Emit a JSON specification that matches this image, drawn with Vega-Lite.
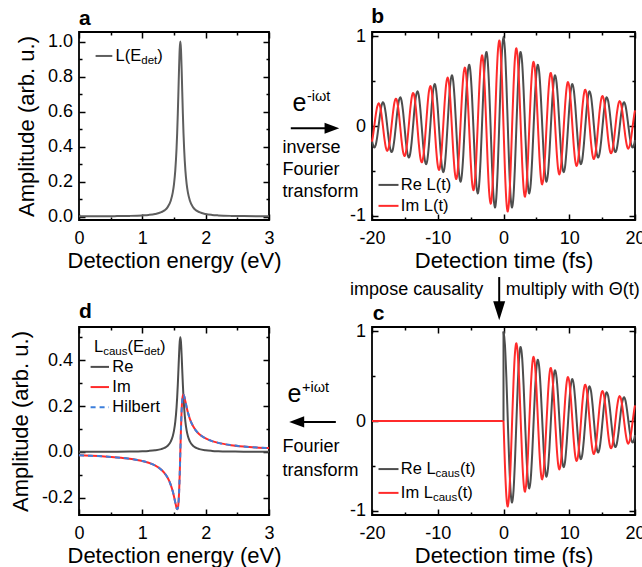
{
"$schema": "https://vega.github.io/schema/vega-lite/v6.json",
"padding": {"left": 8, "top": 5, "right": 0, "bottom": 0},
"bounds": "flush",
"columns": 2,
"spacing": {"row": 107, "column": 103},
"config": {
 "font": "Liberation Sans",
 "view": {"stroke": "#000000", "strokeWidth": 1.8},
 "axis": {"grid": false, "domain": false, "labelFont": "Liberation Sans", "labelFontSize": 18, "labelColor": "#000000", "titleFont": "Liberation Sans", "titleFontSize": 22, "titleFontWeight": "normal", "titleColor": "#000000", "tickColor": "#000000", "tickWidth": 1.5, "labelFlush": false, "labelOverlap": false, "zindex": 1},
 "axisX": {"labelPadding": 15.7},
 "axisY": {"labelPadding": 12.5},
 "text": {"font": "Liberation Sans", "color": "#000000"}
},
"datasets": {
 "time": [
{"t":-20,"re":-0.157,"im":-0.175},{"t":-19.868,"re":-0.205,"im":-0.119},{"t":-19.65,"re":-0.241,"im":0},{"t":-19.432,"re":-0.212,"im":0.122},{"t":-19.213,"re":-0.124,"im":0.215},{"t":-18.995,"re":0,"im":0.253},{"t":-18.777,"re":0.128,"im":0.222},{"t":-18.558,"re":0.226,"im":0.130},{"t":-18.34,"re":0.265,"im":0},{"t":-18.122,"re":0.233,"im":-0.135},{"t":-17.903,"re":0.137,"im":-0.237},{"t":-17.685,"re":0,"im":-0.278},{"t":-17.467,"re":-0.141,"im":-0.244},{"t":-17.248,"re":-0.248,"im":-0.143},{"t":-17.03,"re":-0.291,"im":0},{"t":-16.812,"re":-0.256,"im":0.148},{"t":-16.593,"re":-0.150,"im":0.260},{"t":-16.375,"re":0,"im":0.305},{"t":-16.157,"re":0.155,"im":0.269},{"t":-15.938,"re":0.273,"im":0.158},{"t":-15.72,"re":0.320,"im":0},{"t":-15.502,"re":0.282,"im":-0.163},{"t":-15.283,"re":0.165,"im":-0.286},{"t":-15.065,"re":0,"im":-0.336},{"t":-14.847,"re":-0.171,"im":-0.295},{"t":-14.628,"re":-0.300,"im":-0.173},{"t":-14.41,"re":-0.352,"im":0},{"t":-14.192,"re":-0.310,"im":0.179},{"t":-13.973,"re":-0.182,"im":0.315},{"t":-13.755,"re":0,"im":0.369},{"t":-13.537,"re":0.188,"im":0.325},{"t":-13.318,"re":0.330,"im":0.191},{"t":-13.1,"re":0.387,"im":0},{"t":-12.882,"re":0.341,"im":-0.197},{"t":-12.663,"re":0.200,"im":-0.346},{"t":-12.445,"re":0,"im":-0.406},{"t":-12.227,"re":-0.206,"im":-0.357},{"t":-12.008,"re":-0.363,"im":-0.210},{"t":-11.79,"re":-0.426,"im":0},{"t":-11.572,"re":-0.375,"im":0.216},{"t":-11.353,"re":-0.220,"im":0.381},{"t":-11.135,"re":0,"im":0.446},{"t":-10.917,"re":0.227,"im":0.393},{"t":-10.698,"re":0.399,"im":0.230},{"t":-10.48,"re":0.468,"im":0},{"t":-10.262,"re":0.412,"im":-0.238},{"t":-10.043,"re":0.242,"im":-0.418},{"t":-9.825,"re":0,"im":-0.491},{"t":-9.607,"re":-0.249,"im":-0.432},{"t":-9.388,"re":-0.439,"im":-0.253},{"t":-9.17,"re":-0.515,"im":0},{"t":-8.952,"re":-0.453,"im":0.261},{"t":-8.733,"re":-0.266,"im":0.460},{"t":-8.515,"re":0,"im":0.540},{"t":-8.297,"re":0.274,"im":0.475},{"t":-8.078,"re":0.482,"im":0.279},{"t":-7.86,"re":0.566,"im":0},{"t":-7.642,"re":0.498,"im":-0.288},{"t":-7.423,"re":0.292,"im":-0.506},{"t":-7.205,"re":0,"im":-0.593},{"t":-6.987,"re":-0.301,"im":-0.522},{"t":-6.768,"re":-0.530,"im":-0.306},{"t":-6.55,"re":-0.622,"im":0},{"t":-6.332,"re":-0.547,"im":0.316},{"t":-6.113,"re":-0.321,"im":0.556},{"t":-5.895,"re":0,"im":0.652},{"t":-5.677,"re":0.331,"im":0.574},{"t":-5.458,"re":0.583,"im":0.337},{"t":-5.24,"re":0.684,"im":0},{"t":-5.022,"re":0.602,"im":-0.348},{"t":-4.803,"re":0.353,"im":-0.612},{"t":-4.585,"re":0,"im":-0.717},{"t":-4.367,"re":-0.364,"im":-0.631},{"t":-4.148,"re":-0.641,"im":-0.370},{"t":-3.93,"re":-0.752,"im":0},{"t":-3.712,"re":-0.662,"im":0.382},{"t":-3.493,"re":-0.388,"im":0.672},{"t":-3.275,"re":0,"im":0.789},{"t":-3.057,"re":0.401,"im":0.694},{"t":-2.838,"re":0.705,"im":0.407},{"t":-2.62,"re":0.827,"im":0},{"t":-2.402,"re":0.728,"im":-0.420},{"t":-2.183,"re":0.427,"im":-0.739},{"t":-1.965,"re":0,"im":-0.867},{"t":-1.747,"re":-0.441,"im":-0.763},{"t":-1.528,"re":-0.775,"im":-0.448},{"t":-1.31,"re":-0.909,"im":0},{"t":-1.092,"re":-0.800,"im":0.462},{"t":-0.873,"re":-0.469,"im":0.813},{"t":-0.655,"re":0,"im":0.954},{"t":-0.437,"re":0.484,"im":0.839},{"t":-0.218,"re":0.852,"im":0.492},
{"t":0,"re":1,"im":0},
{"t":0.218,"re":0.852,"im":-0.492},{"t":0.437,"re":0.484,"im":-0.839},{"t":0.655,"re":0,"im":-0.954},{"t":0.873,"re":-0.469,"im":-0.813},{"t":1.092,"re":-0.800,"im":-0.462},{"t":1.31,"re":-0.909,"im":0},{"t":1.528,"re":-0.775,"im":0.448},{"t":1.747,"re":-0.441,"im":0.763},{"t":1.965,"re":0,"im":0.867},{"t":2.183,"re":0.427,"im":0.739},{"t":2.402,"re":0.728,"im":0.420},{"t":2.62,"re":0.827,"im":0},{"t":2.838,"re":0.705,"im":-0.407},{"t":3.057,"re":0.401,"im":-0.694},{"t":3.275,"re":0,"im":-0.789},{"t":3.493,"re":-0.388,"im":-0.672},{"t":3.712,"re":-0.662,"im":-0.382},{"t":3.93,"re":-0.752,"im":0},{"t":4.148,"re":-0.641,"im":0.370},{"t":4.367,"re":-0.364,"im":0.631},{"t":4.585,"re":0,"im":0.717},{"t":4.803,"re":0.353,"im":0.612},{"t":5.022,"re":0.602,"im":0.348},{"t":5.24,"re":0.684,"im":0},{"t":5.458,"re":0.583,"im":-0.337},{"t":5.677,"re":0.331,"im":-0.574},{"t":5.895,"re":0,"im":-0.652},{"t":6.113,"re":-0.321,"im":-0.556},{"t":6.332,"re":-0.547,"im":-0.316},{"t":6.55,"re":-0.622,"im":0},{"t":6.768,"re":-0.530,"im":0.306},{"t":6.987,"re":-0.301,"im":0.522},{"t":7.205,"re":0,"im":0.593},{"t":7.423,"re":0.292,"im":0.506},{"t":7.642,"re":0.498,"im":0.288},{"t":7.86,"re":0.566,"im":0},{"t":8.078,"re":0.482,"im":-0.279},{"t":8.297,"re":0.274,"im":-0.475},{"t":8.515,"re":0,"im":-0.540},{"t":8.733,"re":-0.266,"im":-0.460},{"t":8.952,"re":-0.453,"im":-0.261},{"t":9.17,"re":-0.515,"im":0},{"t":9.388,"re":-0.439,"im":0.253},{"t":9.607,"re":-0.249,"im":0.432},{"t":9.825,"re":0,"im":0.491},{"t":10.043,"re":0.242,"im":0.418},{"t":10.262,"re":0.412,"im":0.238},{"t":10.48,"re":0.468,"im":0},{"t":10.698,"re":0.399,"im":-0.230},{"t":10.917,"re":0.227,"im":-0.393},{"t":11.135,"re":0,"im":-0.446},{"t":11.353,"re":-0.220,"im":-0.381},{"t":11.572,"re":-0.375,"im":-0.216},{"t":11.79,"re":-0.426,"im":0},{"t":12.008,"re":-0.363,"im":0.210},{"t":12.227,"re":-0.206,"im":0.357},{"t":12.445,"re":0,"im":0.406},{"t":12.663,"re":0.200,"im":0.346},{"t":12.882,"re":0.341,"im":0.197},{"t":13.1,"re":0.387,"im":0},{"t":13.318,"re":0.330,"im":-0.191},{"t":13.537,"re":0.188,"im":-0.325},{"t":13.755,"re":0,"im":-0.369},{"t":13.973,"re":-0.182,"im":-0.315},{"t":14.192,"re":-0.310,"im":-0.179},{"t":14.41,"re":-0.352,"im":0},{"t":14.628,"re":-0.300,"im":0.173},{"t":14.847,"re":-0.171,"im":0.295},{"t":15.065,"re":0,"im":0.336},{"t":15.283,"re":0.165,"im":0.286},{"t":15.502,"re":0.282,"im":0.163},{"t":15.72,"re":0.320,"im":0},{"t":15.938,"re":0.273,"im":-0.158},{"t":16.157,"re":0.155,"im":-0.269},{"t":16.375,"re":0,"im":-0.305},{"t":16.593,"re":-0.150,"im":-0.260},{"t":16.812,"re":-0.256,"im":-0.148},{"t":17.03,"re":-0.291,"im":0},{"t":17.248,"re":-0.248,"im":0.143},{"t":17.467,"re":-0.141,"im":0.244},{"t":17.685,"re":0,"im":0.278},{"t":17.903,"re":0.137,"im":0.237},{"t":18.122,"re":0.233,"im":0.135},{"t":18.34,"re":0.265,"im":0},{"t":18.558,"re":0.226,"im":-0.130},{"t":18.777,"re":0.128,"im":-0.222},{"t":18.995,"re":0,"im":-0.253},{"t":19.213,"re":-0.124,"im":-0.215},{"t":19.432,"re":-0.212,"im":-0.122},{"t":19.65,"re":-0.241,"im":0},{"t":19.868,"re":-0.205,"im":0.119},{"t":20,"re":-0.157,"im":0.175}
 ],
 "spec": [
{"E":0,"L":0.0009,"re":0.0004,"im":-0.0149},{"E":0.2,"L":0.0012,"re":0.0006,"im":-0.0170},{"E":0.4,"L":0.0016,"re":0.0008,"im":-0.0198},{"E":0.6,"L":0.0023,"re":0.0011,"im":-0.0238},{"E":0.8,"L":0.0035,"re":0.0018,"im":-0.0297},{"E":1.0,"L":0.0063,"re":0.0031,"im":-0.0395},{"E":1.1,"L":0.0090,"re":0.0045,"im":-0.0473},{"E":1.2,"L":0.0140,"re":0.0070,"im":-0.0588},{"E":1.3,"L":0.0247,"re":0.0123,"im":-0.0775},{"E":1.35,"L":0.0351,"re":0.0176,"im":-0.0921},{"E":1.4,"L":0.0538,"re":0.0269,"im":-0.1128},{"E":1.45,"L":0.0918,"re":0.0459,"im":-0.1444},{"E":1.48,"L":0.1364,"re":0.0682,"im":-0.1716},{"E":1.5,"L":0.1853,"re":0.0927,"im":-0.1943},{"E":1.52,"L":0.2623,"re":0.1311,"im":-0.2199},{"E":1.54,"L":0.3872,"re":0.1936,"im":-0.2436},{"E":1.55,"L":0.4764,"re":0.2382,"im":-0.2497},{"E":1.56,"L":0.5871,"re":0.2936,"im":-0.2462},{"E":1.57,"L":0.7165,"re":0.3583,"im":-0.2254},{"E":1.58,"L":0.8505,"re":0.4252,"im":-0.1783},{"E":1.59,"L":0.9579,"re":0.4789,"im":-0.1004},{"E":1.6,"L":1,"re":0.5,"im":0},{"E":1.61,"L":0.9579,"re":0.4789,"im":0.1004},{"E":1.62,"L":0.8505,"re":0.4252,"im":0.1783},{"E":1.63,"L":0.7165,"re":0.3583,"im":0.2254},{"E":1.64,"L":0.5871,"re":0.2936,"im":0.2462},{"E":1.65,"L":0.4764,"re":0.2382,"im":0.2497},{"E":1.66,"L":0.3872,"re":0.1936,"im":0.2436},{"E":1.68,"L":0.2623,"re":0.1311,"im":0.2199},{"E":1.7,"L":0.1853,"re":0.0927,"im":0.1943},{"E":1.72,"L":0.1364,"re":0.0682,"im":0.1716},{"E":1.75,"L":0.0918,"re":0.0459,"im":0.1444},{"E":1.8,"L":0.0538,"re":0.0269,"im":0.1128},{"E":1.85,"L":0.0351,"re":0.0176,"im":0.0921},{"E":1.9,"L":0.0247,"re":0.0123,"im":0.0775},{"E":2.0,"L":0.0140,"re":0.0070,"im":0.0588},{"E":2.1,"L":0.0090,"re":0.0045,"im":0.0473},{"E":2.2,"L":0.0063,"re":0.0031,"im":0.0395},{"E":2.4,"L":0.0035,"re":0.0018,"im":0.0297},{"E":2.6,"L":0.0023,"re":0.0011,"im":0.0238},{"E":2.8,"L":0.0016,"re":0.0008,"im":0.0198},{"E":3.0,"L":0.0012,"re":0.0006,"im":0.0170}
 ]
},
"concat": [
 {
  "width": 190, "height": 188,
  "resolve": {"axis": {"x": "independent", "y": "independent"}},
  "data": {"values": [
   {"k":"lr","x":0.262,"x2":0.526,"y":0.918},
   {"k":"leg","x":0.578,"y":0.918,"txt":"L(E"},
   {"k":"sub","x":0.984,"y":0.918,"txt":"det"},
   {"k":"leg","x":1.237,"y":0.918,"txt":")"},
   {"k":"let","x":0,"y":1.095,"txt":"a"}
  ]},
  "layer": [
   {"data": {"name": "spec"}, "mark": {"type": "line", "color": "#5e5e5e", "strokeWidth": 2, "interpolate": "monotone"},
    "encoding": {
     "x": {"field": "E", "type": "quantitative", "scale": {"domain": [0, 3], "nice": false, "zero": false},
       "axis": {"orient": "bottom", "values": [0, 0.5, 1, 1.5, 2, 2.5, 3], "labelExpr": "datum.value % 1 === 0 ? format(datum.value, 'd') : ''", "tickSize": {"condition": {"test": "datum.value % 1 === 0", "value": -6}, "value": -3}, "title": "Detection energy (eV)", "titlePadding": 0}},
     "y": {"field": "L", "type": "quantitative", "scale": {"domain": [-0.02, 1.055], "nice": false, "zero": false},
       "axis": {"orient": "left", "values": [0, 0.1, 0.2, 0.3, 0.4, 0.5, 0.6, 0.7, 0.8, 0.9, 1.0], "labelExpr": "abs(datum.value*5 - round(datum.value*5)) < 0.000001 ? format(datum.value, '.1f') : ''", "tickSize": {"condition": {"test": "abs(datum.value*5 - round(datum.value*5)) < 0.000001", "value": -6}, "value": -3}, "title": "Amplitude (arb. u.)", "titlePadding": 9}}
    }},
   {"data": {"name": "spec"}, "mark": {"type": "line", "strokeOpacity": 0},
    "encoding": {
     "x": {"field": "E", "type": "quantitative", "axis": {"orient": "top", "values": [0, 0.5, 1, 1.5, 2, 2.5, 3], "labels": false, "tickSize": {"condition": {"test": "datum.value % 1 === 0", "value": -6}, "value": -3}, "title": null}},
     "y": {"field": "L", "type": "quantitative", "axis": {"orient": "right", "values": [0, 0.1, 0.2, 0.3, 0.4, 0.5, 0.6, 0.7, 0.8, 0.9, 1.0], "labels": false, "tickSize": {"condition": {"test": "abs(datum.value*5 - round(datum.value*5)) < 0.000001", "value": -6}, "value": -3}, "title": null}}
    }},
   {"transform": [{"filter": "datum.k == 'lr'"}], "mark": {"type": "rule", "color": "#5e5e5e", "strokeWidth": 2},
    "encoding": {"x": {"field": "x", "type": "quantitative", "axis": null}, "x2": {"field": "x2"}, "y": {"field": "y", "type": "quantitative", "axis": null}}},
   {"transform": [{"filter": "datum.k == 'leg'"}], "mark": {"type": "text", "align": "left", "baseline": "middle", "fontSize": 16.5},
    "encoding": {"x": {"field": "x", "type": "quantitative", "axis": null}, "y": {"field": "y", "type": "quantitative", "axis": null}, "text": {"field": "txt"}}},
   {"transform": [{"filter": "datum.k == 'sub'"}], "mark": {"type": "text", "align": "left", "baseline": "middle", "fontSize": 11.5, "dy": 5},
    "encoding": {"x": {"field": "x", "type": "quantitative", "axis": null}, "y": {"field": "y", "type": "quantitative", "axis": null}, "text": {"field": "txt"}}},
   {"transform": [{"filter": "datum.k == 'let'"}], "mark": {"type": "text", "align": "left", "baseline": "alphabetic", "fontSize": 21, "fontWeight": "bold"},
    "encoding": {"x": {"field": "x", "type": "quantitative", "axis": null}, "y": {"field": "y", "type": "quantitative", "axis": null}, "text": {"field": "txt"}}}
  ]
 },
 {
  "width": 263, "height": 188,
  "resolve": {"axis": {"x": "independent", "y": "independent"}},
  "data": {"values": [
   {"k":"leg","x":-15.62,"y":-0.658,"txt":"Re L(t)"},
   {"k":"leg","x":-15.62,"y":-0.892,"txt":"Im L(t)"},
   {"k":"lr","x":-19.01,"x2":-15.97,"y":-0.658,"s":"re"},
   {"k":"lr","x":-19.01,"x2":-15.97,"y":-0.892,"s":"im"},
   {"k":"let","x":-20.1,"y":1.145,"txt":"b"},
   {"k":"txt","x":-33.61,"y":-0.249,"txt":"inverse"},
   {"k":"txt","x":-33.61,"y":-0.491,"txt":"Fourier"},
   {"k":"txt","x":-33.61,"y":-0.732,"txt":"transform"},
   {"k":"e","x":-32.09,"y":0.162,"txt":"e"},
   {"k":"sup","x":-29.89,"y":0.162,"txt":"-iωt"},
   {"k":"shaft","x":-32.35,"x2":-26.8,"y":-0.026},
   {"k":"headR","x":-26.1,"y":-0.026}
  ]},
  "layer": [
   {"data": {"name": "time"}, "mark": {"type": "line", "color": "#4d4d4d", "strokeWidth": 2, "interpolate": "cardinal"},
    "encoding": {
     "x": {"field": "t", "type": "quantitative", "scale": {"domain": [-20, 20], "nice": false, "zero": false},
       "axis": {"orient": "bottom", "values": [-20, -15, -10, -5, 0, 5, 10, 15, 20], "labelExpr": "datum.value % 10 === 0 ? replace(format(datum.value, 'd'), '−', '-') : ''", "tickSize": {"condition": {"test": "datum.value % 10 === 0", "value": -6}, "value": -3}, "title": "Detection time (fs)", "titlePadding": 0}},
     "y": {"field": "re", "type": "quantitative", "scale": {"domain": [-1.05, 1.05], "nice": false, "zero": false},
       "axis": {"orient": "left", "values": [-1, -0.5, 0, 0.5, 1], "labelExpr": "datum.value % 1 === 0 ? replace(format(datum.value, 'd'), '−', '-') : ''", "tickSize": {"condition": {"test": "datum.value % 1 === 0", "value": -6}, "value": -3}, "title": null}}
    }},
   {"data": {"name": "time"}, "mark": {"type": "line", "color": "#ff2b2b", "strokeWidth": 2, "interpolate": "cardinal"},
    "encoding": {"x": {"field": "t", "type": "quantitative", "axis": null}, "y": {"field": "im", "type": "quantitative", "axis": null}}},
   {"data": {"name": "time"}, "mark": {"type": "line", "strokeOpacity": 0},
    "encoding": {
     "x": {"field": "t", "type": "quantitative", "axis": {"orient": "top", "values": [-20, -15, -10, -5, 0, 5, 10, 15, 20], "labels": false, "tickSize": {"condition": {"test": "datum.value % 10 === 0", "value": -6}, "value": -3}, "title": null}},
     "y": {"field": "re", "type": "quantitative", "axis": {"orient": "right", "values": [-1, -0.5, 0, 0.5, 1], "labels": false, "tickSize": {"condition": {"test": "datum.value % 1 === 0", "value": -6}, "value": -3}, "title": null}}
    }},
   {"transform": [{"filter": "datum.k == 'lr'"}], "mark": {"type": "rule", "strokeWidth": 2},
    "encoding": {"x": {"field": "x", "type": "quantitative", "axis": null}, "x2": {"field": "x2"}, "y": {"field": "y", "type": "quantitative", "axis": null},
     "color": {"field": "s", "type": "nominal", "scale": {"domain": ["re", "im"], "range": ["#4d4d4d", "#ff2b2b"]}, "legend": null}}},
   {"transform": [{"filter": "datum.k == 'leg'"}], "mark": {"type": "text", "align": "left", "baseline": "middle", "fontSize": 16.5},
    "encoding": {"x": {"field": "x", "type": "quantitative", "axis": null}, "y": {"field": "y", "type": "quantitative", "axis": null}, "text": {"field": "txt"}}},
   {"transform": [{"filter": "datum.k == 'let'"}], "mark": {"type": "text", "align": "left", "baseline": "alphabetic", "fontSize": 21, "fontWeight": "bold"},
    "encoding": {"x": {"field": "x", "type": "quantitative", "axis": null}, "y": {"field": "y", "type": "quantitative", "axis": null}, "text": {"field": "txt"}}},
   {"transform": [{"filter": "datum.k == 'txt'"}], "mark": {"type": "text", "align": "left", "baseline": "middle", "fontSize": 18},
    "encoding": {"x": {"field": "x", "type": "quantitative", "axis": null}, "y": {"field": "y", "type": "quantitative", "axis": null}, "text": {"field": "txt"}}},
   {"transform": [{"filter": "datum.k == 'e'"}], "mark": {"type": "text", "align": "left", "baseline": "alphabetic", "fontSize": 25},
    "encoding": {"x": {"field": "x", "type": "quantitative", "axis": null}, "y": {"field": "y", "type": "quantitative", "axis": null}, "text": {"field": "txt"}}},
   {"transform": [{"filter": "datum.k == 'sup'"}], "mark": {"type": "text", "align": "left", "baseline": "alphabetic", "fontSize": 14.5, "dy": -10},
    "encoding": {"x": {"field": "x", "type": "quantitative", "axis": null}, "y": {"field": "y", "type": "quantitative", "axis": null}, "text": {"field": "txt"}}},
   {"transform": [{"filter": "datum.k == 'shaft'"}], "mark": {"type": "rule", "color": "#000000", "strokeWidth": 2},
    "encoding": {"x": {"field": "x", "type": "quantitative", "axis": null}, "x2": {"field": "x2"}, "y": {"field": "y", "type": "quantitative", "axis": null}}},
   {"transform": [{"filter": "datum.k == 'headR'"}], "mark": {"type": "point", "shape": "M-1,-0.75L1,0L-1,0.75Z", "filled": true, "color": "#000000", "opacity": 1, "size": 216},
    "encoding": {"x": {"field": "x", "type": "quantitative", "axis": null}, "y": {"field": "y", "type": "quantitative", "axis": null}}}
  ]
 },
 {
  "width": 190, "height": 188,
  "resolve": {"axis": {"x": "independent", "y": "independent"}},
  "data": {"values": [
   {"k":"leg","x":0.237,"y":0.459,"txt":"L"},
   {"k":"sub","x":0.382,"y":0.459,"txt":"caus"},
   {"k":"leg","x":0.766,"y":0.459,"txt":"(E"},
   {"k":"sub","x":1.027,"y":0.459,"txt":"det"},
   {"k":"leg","x":1.28,"y":0.459,"txt":")"},
   {"k":"leg","x":0.526,"y":0.371,"txt":"Re"},
   {"k":"leg","x":0.526,"y":0.283,"txt":"Im"},
   {"k":"leg","x":0.526,"y":0.195,"txt":"Hilbert"},
   {"k":"lr","x":0.183,"x2":0.474,"y":0.371,"s":"re"},
   {"k":"lr","x":0.183,"x2":0.474,"y":0.283,"s":"im"},
   {"k":"lrd","x":0.183,"x2":0.474,"y":0.195},
   {"k":"let","x":0,"y":0.583,"txt":"d"}
  ]},
  "layer": [
   {"data": {"name": "spec"}, "mark": {"type": "line", "color": "#4d4d4d", "strokeWidth": 2, "interpolate": "monotone"},
    "encoding": {
     "x": {"field": "E", "type": "quantitative", "scale": {"domain": [0, 3], "nice": false, "zero": false},
       "axis": {"orient": "bottom", "values": [0, 0.5, 1, 1.5, 2, 2.5, 3], "labelExpr": "datum.value % 1 === 0 ? format(datum.value, 'd') : ''", "tickSize": {"condition": {"test": "datum.value % 1 === 0", "value": -6}, "value": -3}, "title": "Detection energy (eV)", "titlePadding": 0}},
     "y": {"field": "re", "type": "quantitative", "scale": {"domain": [-0.275, 0.545], "nice": false, "zero": false},
       "axis": {"orient": "left", "values": [-0.2, -0.1, 0, 0.1, 0.2, 0.3, 0.4, 0.5], "labelExpr": "abs(datum.value*5 - round(datum.value*5)) < 0.000001 ? replace(format(datum.value, '.1f'), '−', '-') : ''", "tickSize": {"condition": {"test": "abs(datum.value*5 - round(datum.value*5)) < 0.000001", "value": -6}, "value": -3}, "title": "Amplitude (arb. u.)", "titlePadding": 9}}
    }},
   {"data": {"name": "spec"}, "mark": {"type": "line", "color": "#ff2b2b", "strokeWidth": 2, "interpolate": "monotone"},
    "encoding": {"x": {"field": "E", "type": "quantitative", "axis": null}, "y": {"field": "im", "type": "quantitative", "axis": null}}},
   {"data": {"name": "spec"}, "mark": {"type": "line", "color": "#3c7fdc", "strokeWidth": 2, "strokeDash": [5, 4], "interpolate": "monotone"},
    "encoding": {"x": {"field": "E", "type": "quantitative", "axis": null}, "y": {"field": "im", "type": "quantitative", "axis": null}}},
   {"data": {"name": "spec"}, "mark": {"type": "line", "strokeOpacity": 0},
    "encoding": {
     "x": {"field": "E", "type": "quantitative", "axis": {"orient": "top", "values": [0, 0.5, 1, 1.5, 2, 2.5, 3], "labels": false, "tickSize": {"condition": {"test": "datum.value % 1 === 0", "value": -6}, "value": -3}, "title": null}},
     "y": {"field": "re", "type": "quantitative", "axis": {"orient": "right", "values": [-0.2, -0.1, 0, 0.1, 0.2, 0.3, 0.4, 0.5], "labels": false, "tickSize": {"condition": {"test": "abs(datum.value*5 - round(datum.value*5)) < 0.000001", "value": -6}, "value": -3}, "title": null}}
    }},
   {"transform": [{"filter": "datum.k == 'lr'"}], "mark": {"type": "rule", "strokeWidth": 2},
    "encoding": {"x": {"field": "x", "type": "quantitative", "axis": null}, "x2": {"field": "x2"}, "y": {"field": "y", "type": "quantitative", "axis": null},
     "color": {"field": "s", "type": "nominal", "scale": {"domain": ["re", "im"], "range": ["#4d4d4d", "#ff2b2b"]}, "legend": null}}},
   {"transform": [{"filter": "datum.k == 'lrd'"}], "mark": {"type": "rule", "strokeWidth": 2, "color": "#3c7fdc", "strokeDash": [5, 4]},
    "encoding": {"x": {"field": "x", "type": "quantitative", "axis": null}, "x2": {"field": "x2"}, "y": {"field": "y", "type": "quantitative", "axis": null}}},
   {"transform": [{"filter": "datum.k == 'leg'"}], "mark": {"type": "text", "align": "left", "baseline": "middle", "fontSize": 16.5},
    "encoding": {"x": {"field": "x", "type": "quantitative", "axis": null}, "y": {"field": "y", "type": "quantitative", "axis": null}, "text": {"field": "txt"}}},
   {"transform": [{"filter": "datum.k == 'sub'"}], "mark": {"type": "text", "align": "left", "baseline": "middle", "fontSize": 11.5, "dy": 5},
    "encoding": {"x": {"field": "x", "type": "quantitative", "axis": null}, "y": {"field": "y", "type": "quantitative", "axis": null}, "text": {"field": "txt"}}},
   {"transform": [{"filter": "datum.k == 'let'"}], "mark": {"type": "text", "align": "left", "baseline": "alphabetic", "fontSize": 21, "fontWeight": "bold"},
    "encoding": {"x": {"field": "x", "type": "quantitative", "axis": null}, "y": {"field": "y", "type": "quantitative", "axis": null}, "text": {"field": "txt"}}}
  ]
 },
 {
  "width": 263, "height": 188,
  "resolve": {"axis": {"x": "independent", "y": "independent"}},
  "data": {"values": [
   {"k":"leg","x":-15.62,"y":-0.537,"txt":"Re L"},
   {"k":"sub","x":-10.33,"y":-0.537,"txt":"caus"},
   {"k":"leg","x":-6.63,"y":-0.537,"txt":"(t)"},
   {"k":"leg","x":-15.62,"y":-0.803,"txt":"Im L"},
   {"k":"sub","x":-10.74,"y":-0.803,"txt":"caus"},
   {"k":"leg","x":-7.04,"y":-0.803,"txt":"(t)"},
   {"k":"lr","x":-19.01,"x2":-15.97,"y":-0.537,"s":"re"},
   {"k":"lr","x":-19.01,"x2":-15.97,"y":-0.803,"s":"im"},
   {"k":"let","x":-19.9,"y":1.13,"txt":"c"},
   {"k":"txt","x":-33.61,"y":-0.296,"txt":"Fourier"},
   {"k":"txt","x":-33.61,"y":-0.556,"txt":"transform"},
   {"k":"e","x":-32.85,"y":0.208,"txt":"e"},
   {"k":"sup","x":-30.65,"y":0.208,"txt":"+iωt"},
   {"k":"shaft","x":-30.9,"x2":-25.5,"y":-0.011},
   {"k":"headL","x":-31.45,"y":-0.011},
   {"k":"txtR","x":-3.09,"y":1.463,"txt":"impose causality"},
   {"k":"txt","x":0.35,"y":1.463,"txt":"multiply with Θ(t)"},
   {"k":"vshaft","x":-0.654,"y":1.608,"y2":1.3},
   {"k":"headD","x":-0.654,"y":1.232},
   {"k":"flat","x":-20,"x2":0,"y":0},
   {"k":"jump","x":0,"y":0,"y2":1}
  ]},
  "layer": [
   {"data": {"name": "time"}, "transform": [{"filter": "datum.t >= 0"}], "mark": {"type": "line", "color": "#4d4d4d", "strokeWidth": 2, "interpolate": "cardinal"},
    "encoding": {
     "x": {"field": "t", "type": "quantitative", "scale": {"domain": [-20, 20], "nice": false, "zero": false},
       "axis": {"orient": "bottom", "values": [-20, -15, -10, -5, 0, 5, 10, 15, 20], "labelExpr": "datum.value % 10 === 0 ? replace(format(datum.value, 'd'), '−', '-') : ''", "tickSize": {"condition": {"test": "datum.value % 10 === 0", "value": -6}, "value": -3}, "title": "Detection time (fs)", "titlePadding": 0}},
     "y": {"field": "re", "type": "quantitative", "scale": {"domain": [-1.05, 1.05], "nice": false, "zero": false},
       "axis": {"orient": "left", "values": [-1, -0.5, 0, 0.5, 1], "labelExpr": "datum.value % 1 === 0 ? replace(format(datum.value, 'd'), '−', '-') : ''", "tickSize": {"condition": {"test": "datum.value % 1 === 0", "value": -6}, "value": -3}, "title": null}}
    }},
   {"transform": [{"filter": "datum.k == 'jump'"}], "mark": {"type": "rule", "color": "#4d4d4d", "strokeWidth": 2},
    "encoding": {"x": {"field": "x", "type": "quantitative", "axis": null}, "y": {"field": "y", "type": "quantitative", "axis": null}, "y2": {"field": "y2"}}},
   {"data": {"name": "time"}, "transform": [{"filter": "datum.t >= 0"}], "mark": {"type": "line", "color": "#ff2b2b", "strokeWidth": 2, "interpolate": "cardinal"},
    "encoding": {"x": {"field": "t", "type": "quantitative", "axis": null}, "y": {"field": "im", "type": "quantitative", "axis": null}}},
   {"transform": [{"filter": "datum.k == 'flat'"}], "mark": {"type": "rule", "color": "#ff2b2b", "strokeWidth": 2},
    "encoding": {"x": {"field": "x", "type": "quantitative", "axis": null}, "x2": {"field": "x2"}, "y": {"field": "y", "type": "quantitative", "axis": null}}},
   {"data": {"name": "time"}, "mark": {"type": "line", "strokeOpacity": 0},
    "encoding": {
     "x": {"field": "t", "type": "quantitative", "axis": {"orient": "top", "values": [-20, -15, -10, -5, 0, 5, 10, 15, 20], "labels": false, "tickSize": {"condition": {"test": "datum.value % 10 === 0", "value": -6}, "value": -3}, "title": null}},
     "y": {"field": "re", "type": "quantitative", "axis": {"orient": "right", "values": [-1, -0.5, 0, 0.5, 1], "labels": false, "tickSize": {"condition": {"test": "datum.value % 1 === 0", "value": -6}, "value": -3}, "title": null}}
    }},
   {"transform": [{"filter": "datum.k == 'lr'"}], "mark": {"type": "rule", "strokeWidth": 2},
    "encoding": {"x": {"field": "x", "type": "quantitative", "axis": null}, "x2": {"field": "x2"}, "y": {"field": "y", "type": "quantitative", "axis": null},
     "color": {"field": "s", "type": "nominal", "scale": {"domain": ["re", "im"], "range": ["#4d4d4d", "#ff2b2b"]}, "legend": null}}},
   {"transform": [{"filter": "datum.k == 'leg'"}], "mark": {"type": "text", "align": "left", "baseline": "middle", "fontSize": 16.5},
    "encoding": {"x": {"field": "x", "type": "quantitative", "axis": null}, "y": {"field": "y", "type": "quantitative", "axis": null}, "text": {"field": "txt"}}},
   {"transform": [{"filter": "datum.k == 'sub'"}], "mark": {"type": "text", "align": "left", "baseline": "middle", "fontSize": 11.5, "dy": 5},
    "encoding": {"x": {"field": "x", "type": "quantitative", "axis": null}, "y": {"field": "y", "type": "quantitative", "axis": null}, "text": {"field": "txt"}}},
   {"transform": [{"filter": "datum.k == 'let'"}], "mark": {"type": "text", "align": "left", "baseline": "alphabetic", "fontSize": 21, "fontWeight": "bold"},
    "encoding": {"x": {"field": "x", "type": "quantitative", "axis": null}, "y": {"field": "y", "type": "quantitative", "axis": null}, "text": {"field": "txt"}}},
   {"transform": [{"filter": "datum.k == 'txt'"}], "mark": {"type": "text", "align": "left", "baseline": "middle", "fontSize": 18},
    "encoding": {"x": {"field": "x", "type": "quantitative", "axis": null}, "y": {"field": "y", "type": "quantitative", "axis": null}, "text": {"field": "txt"}}},
   {"transform": [{"filter": "datum.k == 'txtR'"}], "mark": {"type": "text", "align": "right", "baseline": "middle", "fontSize": 18},
    "encoding": {"x": {"field": "x", "type": "quantitative", "axis": null}, "y": {"field": "y", "type": "quantitative", "axis": null}, "text": {"field": "txt"}}},
   {"transform": [{"filter": "datum.k == 'e'"}], "mark": {"type": "text", "align": "left", "baseline": "alphabetic", "fontSize": 25},
    "encoding": {"x": {"field": "x", "type": "quantitative", "axis": null}, "y": {"field": "y", "type": "quantitative", "axis": null}, "text": {"field": "txt"}}},
   {"transform": [{"filter": "datum.k == 'sup'"}], "mark": {"type": "text", "align": "left", "baseline": "alphabetic", "fontSize": 14.5, "dy": -10},
    "encoding": {"x": {"field": "x", "type": "quantitative", "axis": null}, "y": {"field": "y", "type": "quantitative", "axis": null}, "text": {"field": "txt"}}},
   {"transform": [{"filter": "datum.k == 'shaft'"}], "mark": {"type": "rule", "color": "#000000", "strokeWidth": 2},
    "encoding": {"x": {"field": "x", "type": "quantitative", "axis": null}, "x2": {"field": "x2"}, "y": {"field": "y", "type": "quantitative", "axis": null}}},
   {"transform": [{"filter": "datum.k == 'vshaft'"}], "mark": {"type": "rule", "color": "#000000", "strokeWidth": 2},
    "encoding": {"x": {"field": "x", "type": "quantitative", "axis": null}, "y": {"field": "y", "type": "quantitative", "axis": null}, "y2": {"field": "y2"}}},
   {"transform": [{"filter": "datum.k == 'headL'"}], "mark": {"type": "point", "shape": "M1,-0.75L-1,0L1,0.75Z", "filled": true, "color": "#000000", "opacity": 1, "size": 225},
    "encoding": {"x": {"field": "x", "type": "quantitative", "axis": null}, "y": {"field": "y", "type": "quantitative", "axis": null}}},
   {"transform": [{"filter": "datum.k == 'headD'"}], "mark": {"type": "point", "shape": "M-0.63,-1L0.63,-1L0,1Z", "filled": true, "color": "#000000", "opacity": 1, "size": 361},
    "encoding": {"x": {"field": "x", "type": "quantitative", "axis": null}, "y": {"field": "y", "type": "quantitative", "axis": null}}}
  ]
 }
]
}
